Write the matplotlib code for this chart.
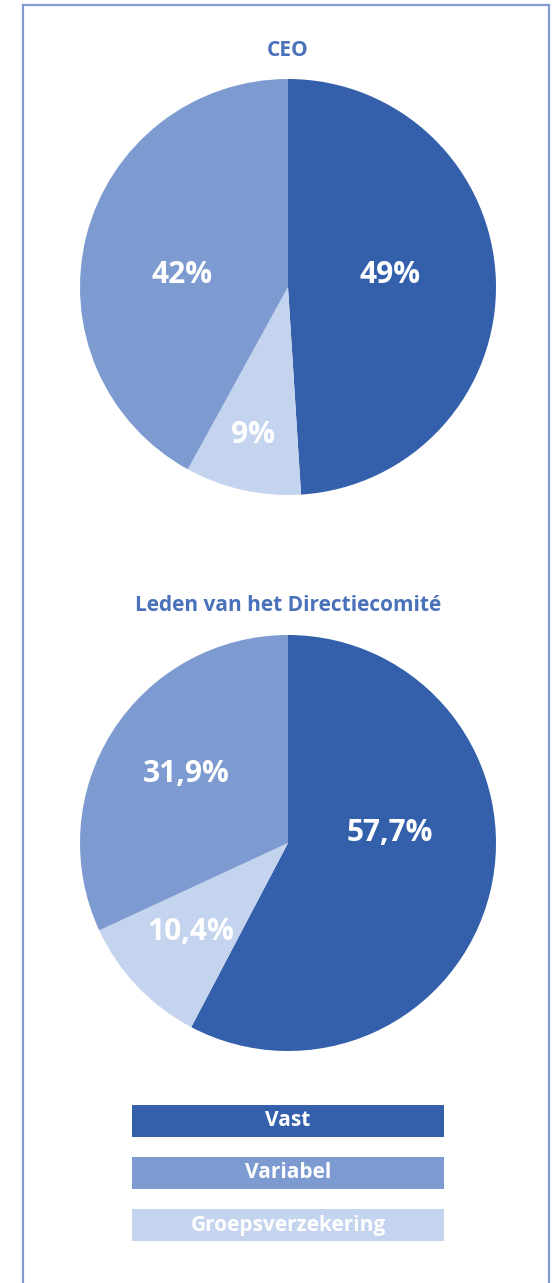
"""plot.py

Two pie charts (CEO and Directiecomité) with a box legend underneath.
"""
import matplotlib
matplotlib.use("Agg")
from matplotlib import pyplot as plt
from matplotlib.patches import Rectangle
from matplotlib.lines import Line2D

# data
CATEGORIES = ['Vast', 'Variabel', 'Groepsverzekering']
CEO_VALUES = [49, 42, 9]
DC_VALUES = [57.7, 31.9, 10.4]
CEO_LABELS = ['49%', '42%', '9%']
DC_LABELS = ['57,7%', '31,9%', '10,4%']
TITLES = ['CEO', 'Leden van het Directiecomité']

COLORS = ['#3460AB', '#7D9BD1', '#C5D4EE']
TITLE_COLOR = '#4A72BA'
FRAME_COLOR = '#7F9BD2'
PIE_ORDER = [0, 2, 1]  # clockwise from top: Vast, Groepsverzekering, Variabel

# label anchors, in units of the pie radius
CEO_LABEL_POS = [(0.49, 0.06), (-0.51, 0.06), (-0.17, -0.71)]
DC_LABEL_POS = [(0.49, 0.05), (-0.49, 0.33), (-0.47, -0.43)]

W, H = 554, 1283
FONT = 'Open Sans'


def fx(px):
    return px / W


def fy(py):
    return 1 - py / H


def draw_pie(fig, cy, values, labels, label_pos, title):
    r = 208
    cx = 288
    ax = fig.add_axes([fx(cx - r), fy(cy + r), 2 * r / W, 2 * r / H])
    vals = [values[i] for i in PIE_ORDER]
    cols = [COLORS[i] for i in PIE_ORDER]
    ax.pie(vals, colors=cols, startangle=90, counterclock=False,
           wedgeprops=dict(linewidth=0))
    ax.set_xlim(-1, 1)
    ax.set_ylim(-1, 1)
    ax.set_aspect('equal')
    ax.axis('off')
    for lab, (x, y) in zip(labels, label_pos):
        ax.text(x, y, lab, ha='center', va='center', color='white',
                fontsize=21.5, fontweight='bold', family=FONT)
    fig.text(fx(cx), fy(cy - r - 29), title, ha='center', va='center',
             color=TITLE_COLOR, fontsize=15, fontweight='bold', family=FONT)


def main():
    fig = plt.figure(figsize=(W / 100, H / 100), dpi=100)

    # frame, open at the bottom
    for xs, ys in [([23, 23], [5, H]), ([23, 549], [5, 5]), ([549, 549], [5, H])]:
        fig.add_artist(Line2D([fx(x) for x in xs], [fy(y) for y in ys],
                              color=FRAME_COLOR, linewidth=1.6))

    draw_pie(fig, 287, CEO_VALUES, CEO_LABELS, CEO_LABEL_POS, TITLES[0])
    draw_pie(fig, 843, DC_VALUES, DC_LABELS, DC_LABEL_POS, TITLES[1])

    # box legend
    for i, (cat, col) in enumerate(zip(CATEGORIES, COLORS)):
        top = 1105 + i * 52
        fig.add_artist(Rectangle((fx(132), fy(top + 32)), 312 / W, 32 / H,
                                 facecolor=col, edgecolor='none'))
        fig.text(fx(288), fy(top + 16), cat, ha='center', va='center',
                 color='white', fontsize=15, fontweight='bold', family=FONT)

    fig.savefig('out.png', dpi=100)


if __name__ == "__main__":
    main()
